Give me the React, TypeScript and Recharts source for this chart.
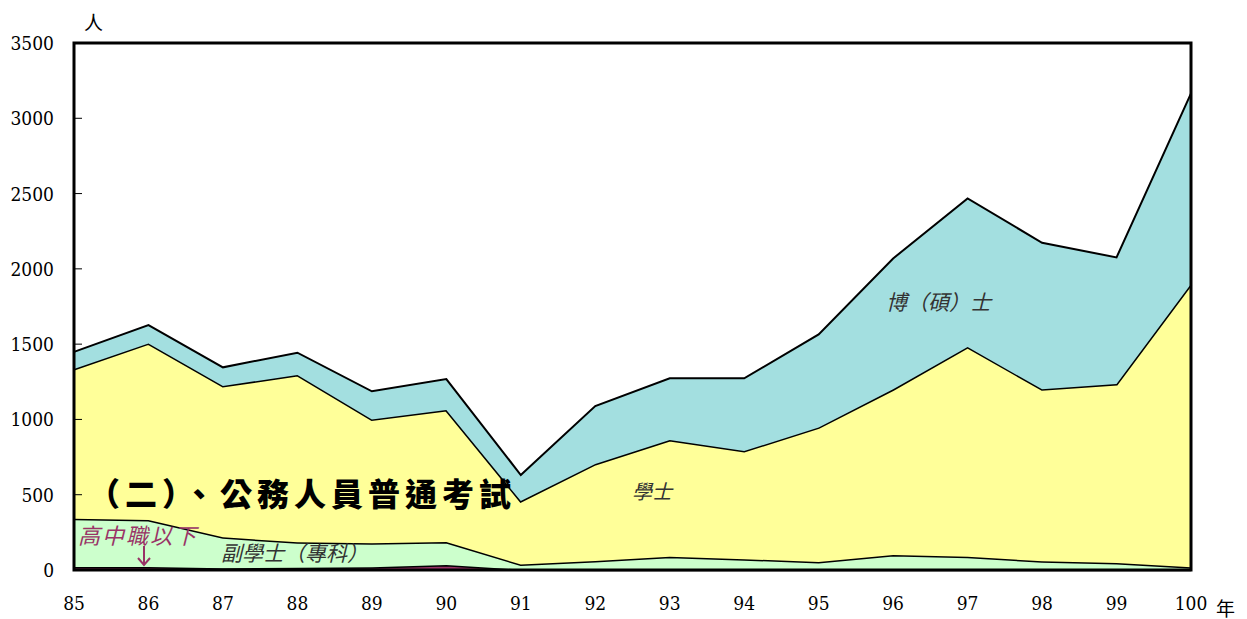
import { Area, AreaChart, ReferenceArea, XAxis, YAxis } from 'recharts'

const years = ['85', '86', '87', '88', '89', '90', '91', '92', '93', '94', '95', '96', '97', '98', '99', '100']
const highSchool = [20, 20, 12, 15, 18, 33, 3, 2, 2, 2, 2, 2, 2, 2, 2, 2]
const associate = [320, 312, 205, 169, 159, 153, 33, 58, 86, 70, 51, 98, 86, 56, 44, 16]
const bachelor = [995, 1173, 1005, 1111, 823, 876, 422, 644, 775, 718, 894, 1100, 1393, 1142, 1189, 1881]
const graduate = [114, 122, 124, 148, 187, 206, 173, 385, 410, 483, 618, 869, 987, 973, 841, 1266]
const yTicks = [0, 500, 1000, 1500, 2000, 2500, 3000, 3500]

const data = years.map((year, i) => ({
  year,
  highSchool: highSchool[i],
  associate: associate[i],
  bachelor: bachelor[i],
  graduate: graduate[i],
}))

const numFont = '"DejaVu Serif Condensed", "DejaVu Serif", serif'
const cjkFont = '"Noto Sans CJK TC", "Noto Sans CJK SC", sans-serif'

function YTick(props: any) {
  const { x, y, payload } = props
  const axisX = x + 20
  return (
    <g>
      <line x1={axisX} x2={axisX + 8} y1={y} y2={y} stroke="#000" strokeWidth={1} />
      <text x={x} y={y + 7} textAnchor="end" fontFamily={numFont} fontSize={19} fill="#000">
        {payload.value}
      </text>
    </g>
  )
}

function XTick(props: any) {
  const { x, y, payload } = props
  return (
    <text x={x} y={y + 7} textAnchor="middle" fontFamily={numFont} fontSize={19} fill="#000">
      {payload.value}
    </text>
  )
}

const note: React.CSSProperties = {
  position: 'absolute',
  fontFamily: cjkFont,
  fontStyle: 'italic',
  whiteSpace: 'nowrap',
  lineHeight: 1,
}

export default function App() {
  return (
    <div style={{ position: 'relative', width: 1231, height: 611 }}>
      <AreaChart width={1231} height={611} data={data} margin={{ top: 35, right: 48, bottom: 14, left: 0 }}>
        <XAxis
          dataKey="year"
          axisLine={false}
          tickLine={false}
          tickSize={0}
          tickMargin={33}
          tick={<XTick />}
          interval={0}
          height={35}
        />
        <YAxis
          domain={[0, 3500]}
          ticks={yTicks}
          width={66}
          axisLine={false}
          tickLine={false}
          tickSize={0}
          tickMargin={20}
          tick={<YTick />}
          interval={0}
        />
        <Area type="linear" dataKey="highSchool" stackId="1" stroke="#000" strokeWidth={3} fill="#993366" fillOpacity={1} isAnimationActive={false} />
        <Area type="linear" dataKey="associate" stackId="1" stroke="#000" strokeWidth={3} fill="#CCFFCC" fillOpacity={1} isAnimationActive={false} />
        <Area type="linear" dataKey="bachelor" stackId="1" stroke="#000" strokeWidth={3} fill="#FFFF99" fillOpacity={1} isAnimationActive={false} />
        <Area type="linear" dataKey="graduate" stackId="1" stroke="#000" strokeWidth={2} fill="#A3DFE0" fillOpacity={1} isAnimationActive={false} />
        <ReferenceArea x1="85" x2="100" y1={0} y2={3500} fill="none" stroke="#000" strokeWidth={3} ifOverflow="visible" />
      </AreaChart>

      <div style={{ ...note, fontStyle: 'normal', left: 76, top: 4, fontSize: 19 }}>人</div>
      <div style={{ ...note, fontStyle: 'normal', left: 1208, top: 590, fontSize: 19 }}>年</div>
      <div style={{ ...note, fontStyle: 'normal', fontWeight: 900, left: 80, top: 468, fontSize: 32, letterSpacing: 5, color: '#000' }}>
        （二）、公務人員普通考試
      </div>
      <div style={{ ...note, left: 624, top: 473, fontSize: 20, color: '#333' }}>學士</div>
      <div style={{ ...note, left: 878, top: 283, fontSize: 21, color: '#333' }}>博（碩）士</div>
      <div style={{ ...note, left: 213, top: 534, fontSize: 21, color: '#333' }}>副學士（專科）</div>
      <div style={{ ...note, left: 70, top: 515, fontSize: 22, letterSpacing: 2, color: '#993366' }}>高中職以下</div>
      <svg style={{ position: 'absolute', left: 126, top: 537 }} width={20} height={22}>
        <line x1={10} y1={1} x2={10} y2={20} stroke="#993366" strokeWidth={2} />
        <polyline points="4,13 10,20 16,13" fill="none" stroke="#993366" strokeWidth={2} />
      </svg>
    </div>
  )
}
